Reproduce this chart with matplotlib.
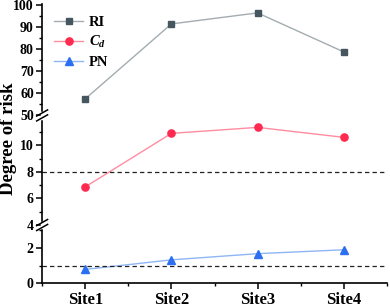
import matplotlib.pyplot as plt
import numpy as np
from matplotlib.ticker import MultipleLocator, FixedLocator
from matplotlib.lines import Line2D

sites = ['Site1', 'Site2', 'Site3', 'Site4']
ri = [57.5, 91.5, 96.5, 78.8]
cd = [6.87, 10.9, 11.35, 10.6]
pn = [0.79, 1.33, 1.68, 1.9]

plt.rcParams['font.family'] = ['Liberation Serif', 'DejaVu Serif']
plt.rcParams['font.weight'] = 'bold'
plt.rcParams['mathtext.fontset'] = 'custom'
plt.rcParams['mathtext.it'] = 'Liberation Serif:italic:bold'
plt.rcParams['mathtext.rm'] = 'Liberation Serif:bold'

fig = plt.figure(figsize=(3.9, 3.07), dpi=100)
left, width = 0.108, 0.884
ax_top = fig.add_axes([left, 0.624, width, 0.362])
ax_mid = fig.add_axes([left, 0.267, width, 0.357])
ax_bot = fig.add_axes([left, 0.077, width, 0.190])

x = np.arange(1, len(sites) + 1)

ri_style = dict(color='#a3acb0', marker='s', markersize=4.3, markerfacecolor='#46565f',
                markeredgecolor='#46565f', lw=1)
cd_style = dict(color='#ff8da1', marker='o', markersize=5.2, markerfacecolor='#ff2a4f',
                markeredgecolor='#ff2a4f', lw=1)
pn_style = dict(color='#8fb6f4', marker='^', markersize=5.5, markerfacecolor='#2c6ff0',
                markeredgecolor='#2c6ff0', lw=1)

ax_top.plot(x, ri, **ri_style)
ax_mid.plot(x, cd, **cd_style)
ax_bot.plot(x, pn, **pn_style)

ax_mid.axhline(8, color='#222222', ls='--', lw=0.9, dashes=(3.5, 2.5))
ax_bot.axhline(1, color='#222222', ls='--', lw=0.9, dashes=(3.5, 2.5))

ax_top.set_ylim(50, 100.4)
ax_mid.set_ylim(4, 12.25)
ax_bot.set_ylim(0, 3.3)

ax_top.yaxis.set_major_locator(MultipleLocator(10))
ax_top.yaxis.set_minor_locator(MultipleLocator(5))
ax_mid.yaxis.set_major_locator(FixedLocator([4, 6, 8, 10]))
ax_mid.yaxis.set_minor_locator(FixedLocator([5, 7, 9, 11]))
ax_bot.yaxis.set_major_locator(MultipleLocator(2))
ax_bot.yaxis.set_minor_locator(MultipleLocator(1))

for ax in (ax_top, ax_mid, ax_bot):
    ax.set_xlim(0.5, 4.5)
    ax.spines['top'].set_visible(False)
    ax.spines['right'].set_visible(False)
    ax.spines['left'].set_linewidth(1.2)
    ax.tick_params(axis='y', which='major', length=4, width=1.1, labelsize=10, pad=2)
    ax.tick_params(axis='y', which='minor', length=2.5, width=1.0)
    ax.patch.set_visible(False)

for ax in (ax_top, ax_mid):
    ax.spines['bottom'].set_visible(False)
    ax.tick_params(axis='x', which='both', bottom=False, labelbottom=False)

ax_bot.spines['bottom'].set_linewidth(1.2)
ax_bot.set_xticks(x)
ax_bot.set_xticklabels(sites, fontsize=12, fontweight='bold')
ax_bot.xaxis.set_minor_locator(MultipleLocator(0.5))
ax_bot.tick_params(axis='x', which='major', length=4, width=1.1, pad=2)
ax_bot.tick_params(axis='x', which='minor', length=2.5, width=1.0)

# break marks on the left spine
for yb in (0.624, 0.267):
    fig.add_artist(Line2D([left, left], [yb - 0.008, yb + 0.008], color='white', lw=2.5,
                          transform=fig.transFigure))
    for dy in (-0.008, 0.008):
        fig.add_artist(Line2D([left - 0.014, left + 0.014], [yb + dy - 0.010, yb + dy + 0.010],
                              color='black', lw=1.1, transform=fig.transFigure))

fig.text(0.022, 0.549, 'Degree of risk', rotation=90, ha='center', va='center',
         fontsize=13.5, fontweight='bold')

handles = [Line2D([], [], **ri_style), Line2D([], [], **cd_style), Line2D([], [], **pn_style)]
ax_top.legend(handles, ['RI', r'$C_d$', 'PN'], loc='upper left',
              bbox_to_anchor=(54 / 390, 1 - 16 / 307), bbox_transform=fig.transFigure,
              frameon=False, borderaxespad=0, borderpad=0, handlelength=2.0,
              handletextpad=0.4, labelspacing=0.35, prop={'weight': 'bold', 'size': 10.5})

fig.savefig('out.png', dpi=100)
